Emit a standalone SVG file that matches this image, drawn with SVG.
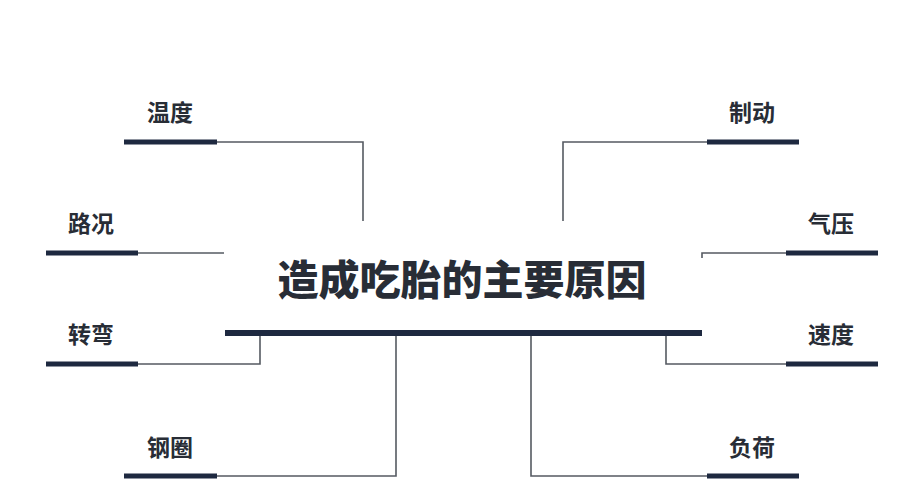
<svg xmlns="http://www.w3.org/2000/svg" width="900" height="500" viewBox="0 0 900 500">
<style>
.bar{stroke:#1e2940;stroke-width:5;fill:none}
.main{stroke:#1e2940;stroke-width:6;fill:none}
.ln{stroke:#555a62;stroke-width:1.6;fill:none}
.lbl{font-family:"Noto Sans CJK SC","Noto Sans",sans-serif;font-weight:bold;font-size:23px;fill:#282d36}
.ttl{font-family:"Noto Sans CJK SC","Noto Sans",sans-serif;font-weight:900;font-size:41px;fill:#282d36}
</style>
<rect width="900" height="500" fill="#ffffff"/>
<g id="connectors">
<polyline class="ln" points="217,142 363,142 363,221"/>
<polyline class="ln" points="138,253 224,253"/>
<polyline class="ln" points="138,364 260,364 260,333"/>
<polyline class="ln" points="217,476 396,476 396,333"/>
<polyline class="ln" points="707,142 563,142 563,221"/>
<polyline class="ln" points="786,253 702,253 702,258"/>
<polyline class="ln" points="786,364 666,364 666,333"/>
<polyline class="ln" points="707,476 531,476 531,333"/>
</g>
<g id="center">
<text class="ttl" x="462" y="295" text-anchor="middle">造成吃胎的主要原因</text>
<line class="main" x1="225" y1="333" x2="702" y2="333"/>
</g>
<g id="wendu"><line class="bar" x1="124" y1="142" x2="217" y2="142"/><text class="lbl" x="170" y="121" text-anchor="middle">温度</text></g>
<g id="lukuang"><line class="bar" x1="46" y1="253" x2="138" y2="253"/><text class="lbl" x="91" y="232" text-anchor="middle">路况</text></g>
<g id="zhuanwan"><line class="bar" x1="46" y1="364" x2="138" y2="364"/><text class="lbl" x="91" y="343" text-anchor="middle">转弯</text></g>
<g id="gangquan"><line class="bar" x1="124" y1="476" x2="217" y2="476"/><text class="lbl" x="170" y="456" text-anchor="middle">钢圈</text></g>
<g id="zhidong"><line class="bar" x1="707" y1="142" x2="799" y2="142"/><text class="lbl" x="752" y="121" text-anchor="middle">制动</text></g>
<g id="qiya"><line class="bar" x1="786" y1="253" x2="878" y2="253"/><text class="lbl" x="831" y="232" text-anchor="middle">气压</text></g>
<g id="sudu"><line class="bar" x1="786" y1="364" x2="878" y2="364"/><text class="lbl" x="831" y="343" text-anchor="middle">速度</text></g>
<g id="fuhe"><line class="bar" x1="707" y1="476" x2="799" y2="476"/><text class="lbl" x="752" y="456" text-anchor="middle">负荷</text></g>
</svg>
